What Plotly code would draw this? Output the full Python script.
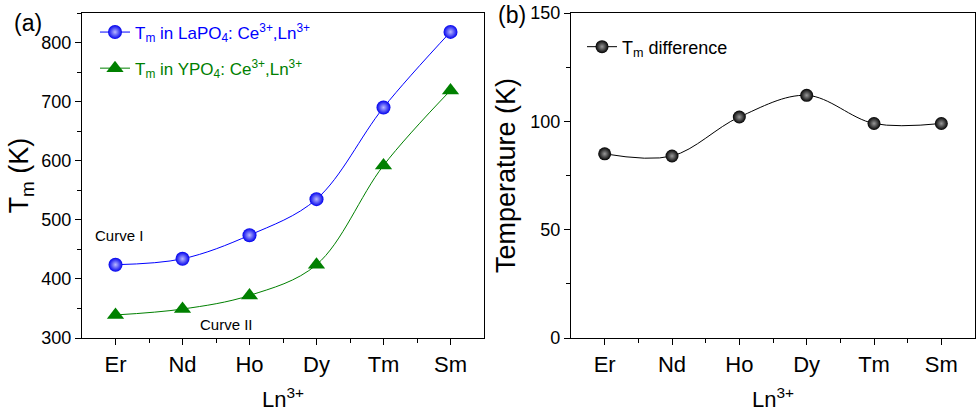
import plotly.graph_objects as go

ions = ["Er", "Nd", "Ho", "Dy", "Tm", "Sm"]
tm_lapo4 = [424, 434, 474, 535, 690, 818]
tm_ypo4 = [339, 349, 372, 424, 592, 719]
tm_diff = [85, 84, 102, 112, 99, 99]

xpos = list(range(1, len(ions) + 1))
FONT = "Liberation Sans, Arial, sans-serif"

fig = go.Figure()

fig.add_trace(go.Scatter(
    x=xpos, y=tm_lapo4, mode="lines+markers", line=dict(color="#0000ff", width=1, shape="spline"),
    marker=dict(symbol="circle", size=14, color="#0000ee", line=dict(width=0),
                gradient=dict(type="radial", color="#b8b8ff")),
    name="<span style='color:#0000ff'>T<sub>m</sub> in LaPO<sub>4</sub>: Ce<sup>3+</sup>,Ln<sup>3+</sup></span>",
    xaxis="x", yaxis="y", legend="legend", legendgroup="g1"))
fig.add_trace(go.Scatter(
    x=xpos, y=tm_ypo4, mode="lines+markers", line=dict(color="#008000", width=1, shape="spline"),
    marker=dict(symbol="triangle-up", size=15, color="#008000", line=dict(width=0)),
    name="<span style='color:#008000'>T<sub>m</sub> in YPO<sub>4</sub>: Ce<sup>3+</sup>,Ln<sup>3+</sup></span>",
    xaxis="x", yaxis="y", legend="legend", legendgroup="g2"))
fig.add_trace(go.Scatter(
    x=xpos, y=tm_diff, mode="lines+markers", line=dict(color="#000000", width=1, shape="spline"),
    marker=dict(symbol="circle", size=13, color="#000000", line=dict(width=0),
                gradient=dict(type="radial", color="#999999")),
    name="T<sub>m</sub> difference",
    xaxis="x2", yaxis="y2", legend="legend2"))

W, H = 979, 419
L, R, T, B = 82, 4, 12.5, 81
PW = W - L - R
PH = H - T - B

def px(x):
    return (x - L) / PW

def py(y):
    return (H - B - y) / PH

common_x = dict(
    tickmode="array", tickvals=xpos, ticktext=ions, range=[0.5, 6.5], automargin=False,
    showline=True, linecolor="black", linewidth=1.3, mirror=True,
    ticks="outside", ticklen=6, tickwidth=1.2, tickcolor="black",
    minor=dict(tickmode="array", tickvals=[1.5, 2.5, 3.5, 4.5, 5.5], ticks="outside",
               ticklen=4, tickwidth=1.2, tickcolor="black"),
    showgrid=False, zeroline=False,
    tickfont=dict(family=FONT, size=22, color="black"),
    title=dict(text="Ln<sup>3+</sup>", font=dict(family=FONT, size=22, color="black"), standoff=16),
)
common_y = dict(
    showline=True, linecolor="black", linewidth=1.3, mirror=True, automargin=False,
    ticks="outside", ticklen=6, tickwidth=1.2, tickcolor="black",
    showgrid=False, zeroline=False,
    tickfont=dict(family=FONT, size=18, color="black"),
)

fig.update_layout(
    width=W, height=H, margin=dict(l=L, r=R, t=T, b=B, autoexpand=False),
    paper_bgcolor="white", plot_bgcolor="white",
    xaxis=dict(common_x, domain=[0, px(484)], anchor="y"),
    xaxis2=dict(common_x, domain=[px(571), 1], anchor="y2"),
    yaxis=dict(common_y, domain=[0, 1], anchor="x", range=[300, 850], tickvals=[300, 400, 500, 600, 700, 800],
               minor=dict(tickmode="array", tickvals=[350, 450, 550, 650, 750, 850], ticks="outside",
                          ticklen=4, tickwidth=1.2, tickcolor="black"),
               title=dict(text="T<sub>m</sub> (K)", font=dict(family=FONT, size=27, color="black"), standoff=4)),
    yaxis2=dict(common_y, domain=[0, 1], anchor="x2", range=[0, 150], tickvals=[0, 50, 100, 150],
                minor=dict(tickmode="array", tickvals=[25, 75, 125], ticks="outside",
                           ticklen=4, tickwidth=1.2, tickcolor="black"),
                title=dict(text="Temperature (K)", font=dict(family=FONT, size=27, color="black"), standoff=6)),
    legend=dict(x=px(95), y=py(14), xanchor="left", yanchor="top", bgcolor="rgba(0,0,0,0)",
                font=dict(family=FONT, size=17), traceorder="grouped", tracegroupgap=11, itemwidth=30),
    legend2=dict(x=px(582), y=py(28), xanchor="left", yanchor="top", bgcolor="rgba(0,0,0,0)",
                 font=dict(family=FONT, size=18, color="black"), itemwidth=30),
    showlegend=True,
    annotations=[
        dict(text="(a)", x=px(12), y=py(23), xref="paper", yref="paper", xanchor="left", yanchor="middle",
             showarrow=False, font=dict(family=FONT, size=23, color="black")),
        dict(text="(b)", x=px(496), y=py(15), xref="paper", yref="paper", xanchor="left", yanchor="middle",
             showarrow=False, font=dict(family=FONT, size=23, color="black")),
        dict(text="Curve I", x=px(93), y=py(235), xref="paper", yref="paper", xanchor="left", yanchor="middle",
             showarrow=False, font=dict(family=FONT, size=15, color="black")),
        dict(text="Curve II", x=px(198), y=py(324), xref="paper", yref="paper", xanchor="left", yanchor="middle",
             showarrow=False, font=dict(family=FONT, size=15, color="black")),
    ],
)

fig.write_html("out.html", config={"displayModeBar": False},
               post_script="document.body.style.margin='0px';")
